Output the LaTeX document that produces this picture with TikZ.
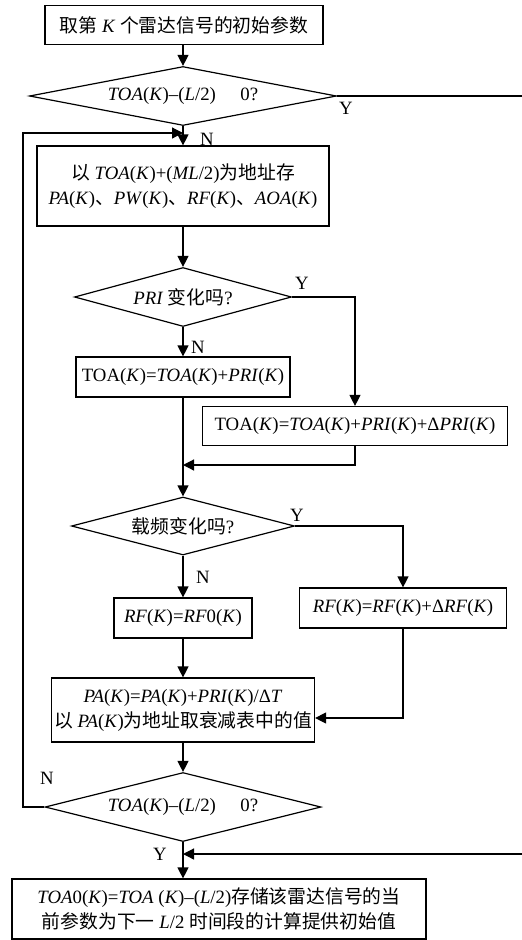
\documentclass[tikz,border=0pt]{standalone}
\usepackage{fontspec}
\setmainfont{Liberation Serif}
\newfontfamily\cjk{Noto Sans CJK SC}
\usetikzlibrary{shapes.geometric, arrows.meta, positioning, calc}
\newcommand{\cn}[1]{{\cjk #1}}

\begin{document}
\begin{tikzpicture}[x=1pt, y=-1pt, line width=1.2pt,
  >={Triangle[length=11pt,width=11pt]},
  font=\fontsize{18.8}{25}\selectfont,
  box/.style={draw, rectangle, inner sep=0pt, align=center},
  dec/.style={draw, diamond, inner sep=0pt, aspect=1},
  lbl/.style={inner sep=1pt}]
\useasboundingbox (0,0) rectangle (522,940);

% Boxes
\node[box, minimum width=278pt, minimum height=39pt] (start) at (184,25)
  {\cn{取第} \textit{K} \cn{个雷达信号的初始参数}};
\node[dec, minimum width=307pt, minimum height=59pt] (d1) at (183,96)
  {\makebox[0pt]{\textit{TOA}(\textit{K})–(\textit{L}/2)\hspace{1.3em}0?}};
\node[box, minimum width=292pt, minimum height=80pt] (store) at (183,186)
  {\cn{以} \textit{TOA}(\textit{K})+(\textit{ML}/2)\cn{为地址存}\\
   \textit{PA}(\textit{K})\cn{、}\textit{PW}(\textit{K})\cn{、}\textit{RF}(\textit{K})\cn{、}\textit{AOA}(\textit{K})};
\node[dec, minimum width=217pt, minimum height=59pt] (d2) at (183,297)
  {\makebox[0pt]{\textit{PRI} \cn{变化吗}?}};
\node[box, minimum width=214pt, minimum height=40pt] (pri0) at (183,377)
  {TOA(\textit{K})=\textit{TOA}(\textit{K})+\textit{PRI}(\textit{K})};
\node[box, minimum width=305pt, minimum height=39pt] (pri1) at (355,426)
  {TOA(\textit{K})=\textit{TOA}(\textit{K})+\textit{PRI}(\textit{K})+Δ\textit{PRI}(\textit{K})};
\node[dec, minimum width=223pt, minimum height=58pt] (d3) at (183,526)
  {\makebox[0pt]{\cn{载频变化吗}?}};
\node[box, minimum width=138pt, minimum height=40pt] (rf0) at (183,618)
  {\textit{RF}(\textit{K})=\textit{RF}0(\textit{K})};
\node[box, minimum width=207pt, minimum height=40pt] (rf1) at (403,608)
  {\textit{RF}(\textit{K})=\textit{RF}(\textit{K})+Δ\textit{RF}(\textit{K})};
\node[box, minimum width=263pt, minimum height=64pt] (pa) at (183,710)
  {\textit{PA}(\textit{K})=\textit{PA}(\textit{K})+\textit{PRI}(\textit{K})/Δ\textit{T}\\
   \cn{以} \textit{PA}(\textit{K})\cn{为地址取衰减表中的值}};
\node[dec, minimum width=276pt, minimum height=69pt] (d4) at (183,807)
  {\makebox[0pt]{\textit{TOA}(\textit{K})–(\textit{L}/2)\hspace{1.3em}0?}};
\node[box, minimum width=414pt, minimum height=60pt] (save) at (219,909)
  {\textit{TOA}0(\textit{K})=\textit{TOA} (\textit{K})–(\textit{L}/2)\cn{存储该雷达信号的当}\\
   \cn{前参数为下一} \textit{L}/2 \cn{时间段的计算提供初始值}};

% Free ends at the right edge and the loop corner
\coordinate (yout) at (522,96);
\coordinate (yin) at (522,854);
\coordinate (loop) at (23,133);
\coordinate (merge) at (183,465);

% Main flow
\draw[->] (start.south) -- (start.south -| d1.north) -- (d1.north);
\draw (d1.east) -- (yout);
\draw[->] (d1.south) -- (store.north);
\draw[->] (store.south) -- (d2.north);
\draw[->] (d2.east) -| (pri1.north);
\draw[->] (d2.south) -- (pri0.north);
\draw[->] (pri0.south) -- (d3.north);
\draw[->] (pri1.south) |- (merge);
\draw[->] (d3.east) -| (rf1.north);
\draw[->] (d3.south) -- (rf0.north);
\draw[->] (rf0.south) -- (pa.north);
\draw[->] (rf1.south) |- ($(pa.east)+(0,8)$);
\draw[->] (pa.south) -- (d4.north);
\draw[->] (d4.south) -- (d4.south |- save.north);
\draw[->] (yin) -- (yin -| d4.south);
\draw[->] (d4.west) -| (loop) -- (loop -| d1.south);

% Y / N labels
\node[lbl] (y1) at (346,108) {Y};
\node[lbl] (n1) at (207,139) {N};
\node[lbl] (y2) at (302,283) {Y};
\node[lbl] (n2) at (198,347) {N};
\node[lbl] (y3) at (297,515) {Y};
\node[lbl] (n3) at (203,577) {N};
\node[lbl] (n4) at (47,778) {N};
\node[lbl] (y4) at (160,854) {Y};
\end{tikzpicture}
\end{document}
